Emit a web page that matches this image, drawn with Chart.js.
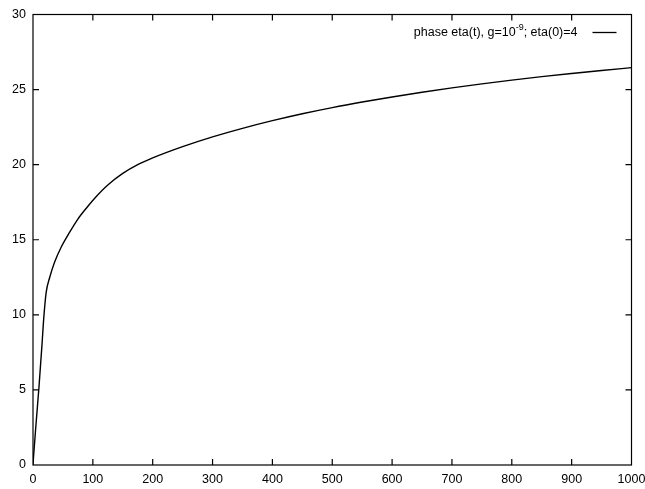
<!DOCTYPE html>
<html>
<head>
<meta charset="utf-8">
<script src="https://cdn.jsdelivr.net/npm/chart.js@4.4.0/dist/chart.umd.min.js"></script>
<style>
  html, body { margin: 0; padding: 0; background: #fff; }
  canvas { display: block; }
</style>
</head>
<body>
<canvas id="myChart" width="645" height="489"></canvas>
<script>
// time values (x) and phase eta(t)
const timeValues = [0, 1, 5, 10, 15, 18, 22, 28, 36, 47, 60, 75, 90, 105, 125, 150, 175, 200,
                    250, 300, 350, 400, 450, 500, 550, 600, 650, 700, 750, 800, 850, 900, 950, 1000];
const etaValues = [0, 0.6, 2.7, 5.2, 8.0, 9.8, 11.5, 12.5, 13.5, 14.5, 15.42, 16.38, 17.15, 17.85, 18.65, 19.42, 20.0, 20.45,
                   21.2, 21.85, 22.42, 22.93, 23.39, 23.8, 24.17, 24.51, 24.82, 25.11, 25.38, 25.63, 25.86, 26.07, 26.27, 26.46];
const xTicks = [0, 100, 200, 300, 400, 500, 600, 700, 800, 900, 1000];
const yTicks = [0, 5, 10, 15, 20, 25, 30];

// legend text pieces: base, superscript, rest
const legendParts = ["phase eta(t), g=10", "-9", "; eta(0)=4"];

const FONT = "'Liberation Sans', Arial, Helvetica, sans-serif";

// gnuplot-like frame with inward ticks on all four sides
const framePlugin = {
    id: "frame",
    afterDatasetsDraw(chart) {
        const ctx = chart.ctx;
        const a = chart.chartArea;
        const xs = chart.scales.x, ys = chart.scales.y;
        const len = 6;
        ctx.save();
        ctx.strokeStyle = "#000";
        ctx.lineWidth = 1.2;
        ctx.strokeRect(a.left, a.top, a.right - a.left, a.bottom - a.top);
        ctx.beginPath();
        xTicks.forEach(function (v) {
            const px = xs.getPixelForValue(v);
            if (v === xs.min || v === xs.max) return;
            ctx.moveTo(px, a.bottom); ctx.lineTo(px, a.bottom - len);
            ctx.moveTo(px, a.top); ctx.lineTo(px, a.top + len);
        });
        yTicks.forEach(function (v) {
            const py = ys.getPixelForValue(v);
            if (v === ys.min || v === ys.max) return;
            ctx.moveTo(a.left, py); ctx.lineTo(a.left + len, py);
            ctx.moveTo(a.right, py); ctx.lineTo(a.right - len, py);
        });
        ctx.stroke();

        // key in the top right corner, sample line right of the text
        const y = a.top + 18;
        const lineEnd = a.right - 15;
        const lineStart = lineEnd - 24;
        const textEnd = lineStart - 15;
        ctx.font = "12.5px " + FONT;
        const w0 = ctx.measureText(legendParts[0]).width;
        const w2 = ctx.measureText(legendParts[2]).width;
        ctx.font = "9px " + FONT;
        const w1 = ctx.measureText(legendParts[1]).width;
        let x = textEnd - (w0 + w1 + w2);
        ctx.fillStyle = "#000";
        ctx.textBaseline = "middle";
        ctx.textAlign = "left";
        ctx.font = "12.5px " + FONT;
        ctx.fillText(legendParts[0], x, y);
        x += w0;
        ctx.font = "9px " + FONT;
        ctx.fillText(legendParts[1], x, y - 5);
        x += w1;
        ctx.font = "12.5px " + FONT;
        ctx.fillText(legendParts[2], x, y);
        ctx.beginPath();
        ctx.lineWidth = 1.3;
        ctx.moveTo(lineStart, y);
        ctx.lineTo(lineEnd, y);
        ctx.stroke();
        ctx.restore();
    }
};

const points = timeValues.map(function (t, i) { return { x: t, y: etaValues[i] }; });

new Chart(document.getElementById("myChart"), {
    type: "line",
    data: {
        datasets: [{
            label: legendParts.join(""),
            data: points,
            borderColor: "#000",
            borderWidth: 1.4,
            pointRadius: 0,
            fill: false,
            cubicInterpolationMode: "monotone"
        }]
    },
    options: {
        responsive: false,
        animation: false,
        devicePixelRatio: 1,
        layout: { padding: { top: 14, right: 13.5, left: 0, bottom: 0 } },
        plugins: {
            legend: { display: false },
            tooltip: { enabled: false }
        },
        scales: {
            x: {
                type: "linear",
                min: 0,
                max: 1000,
                afterFit: function (scale) {
                    scale.height = 24;
                    scale.paddingLeft = 0;
                    scale.paddingRight = 0;
                },
                afterBuildTicks: function (scale) {
                    scale.ticks = xTicks.map(function (v) { return { value: v }; });
                },
                grid: { display: false, drawTicks: false },
                border: { display: false },
                ticks: {
                    color: "#000",
                    padding: 7,
                    maxRotation: 0,
                    autoSkip: false,
                    font: { family: FONT, size: 12.5 },
                    callback: function (v) { return String(v); }
                }
            },
            y: {
                type: "linear",
                min: 0,
                max: 30,
                afterFit: function (scale) { scale.width = 33; },
                afterBuildTicks: function (scale) {
                    scale.ticks = yTicks.map(function (v) { return { value: v }; });
                },
                grid: { display: false, drawTicks: false },
                border: { display: false },
                ticks: {
                    color: "#000",
                    padding: 7,
                    autoSkip: false,
                    font: { family: FONT, size: 12.5 }
                }
            }
        }
    },
    plugins: [framePlugin]
});
</script>
</body>
</html>
